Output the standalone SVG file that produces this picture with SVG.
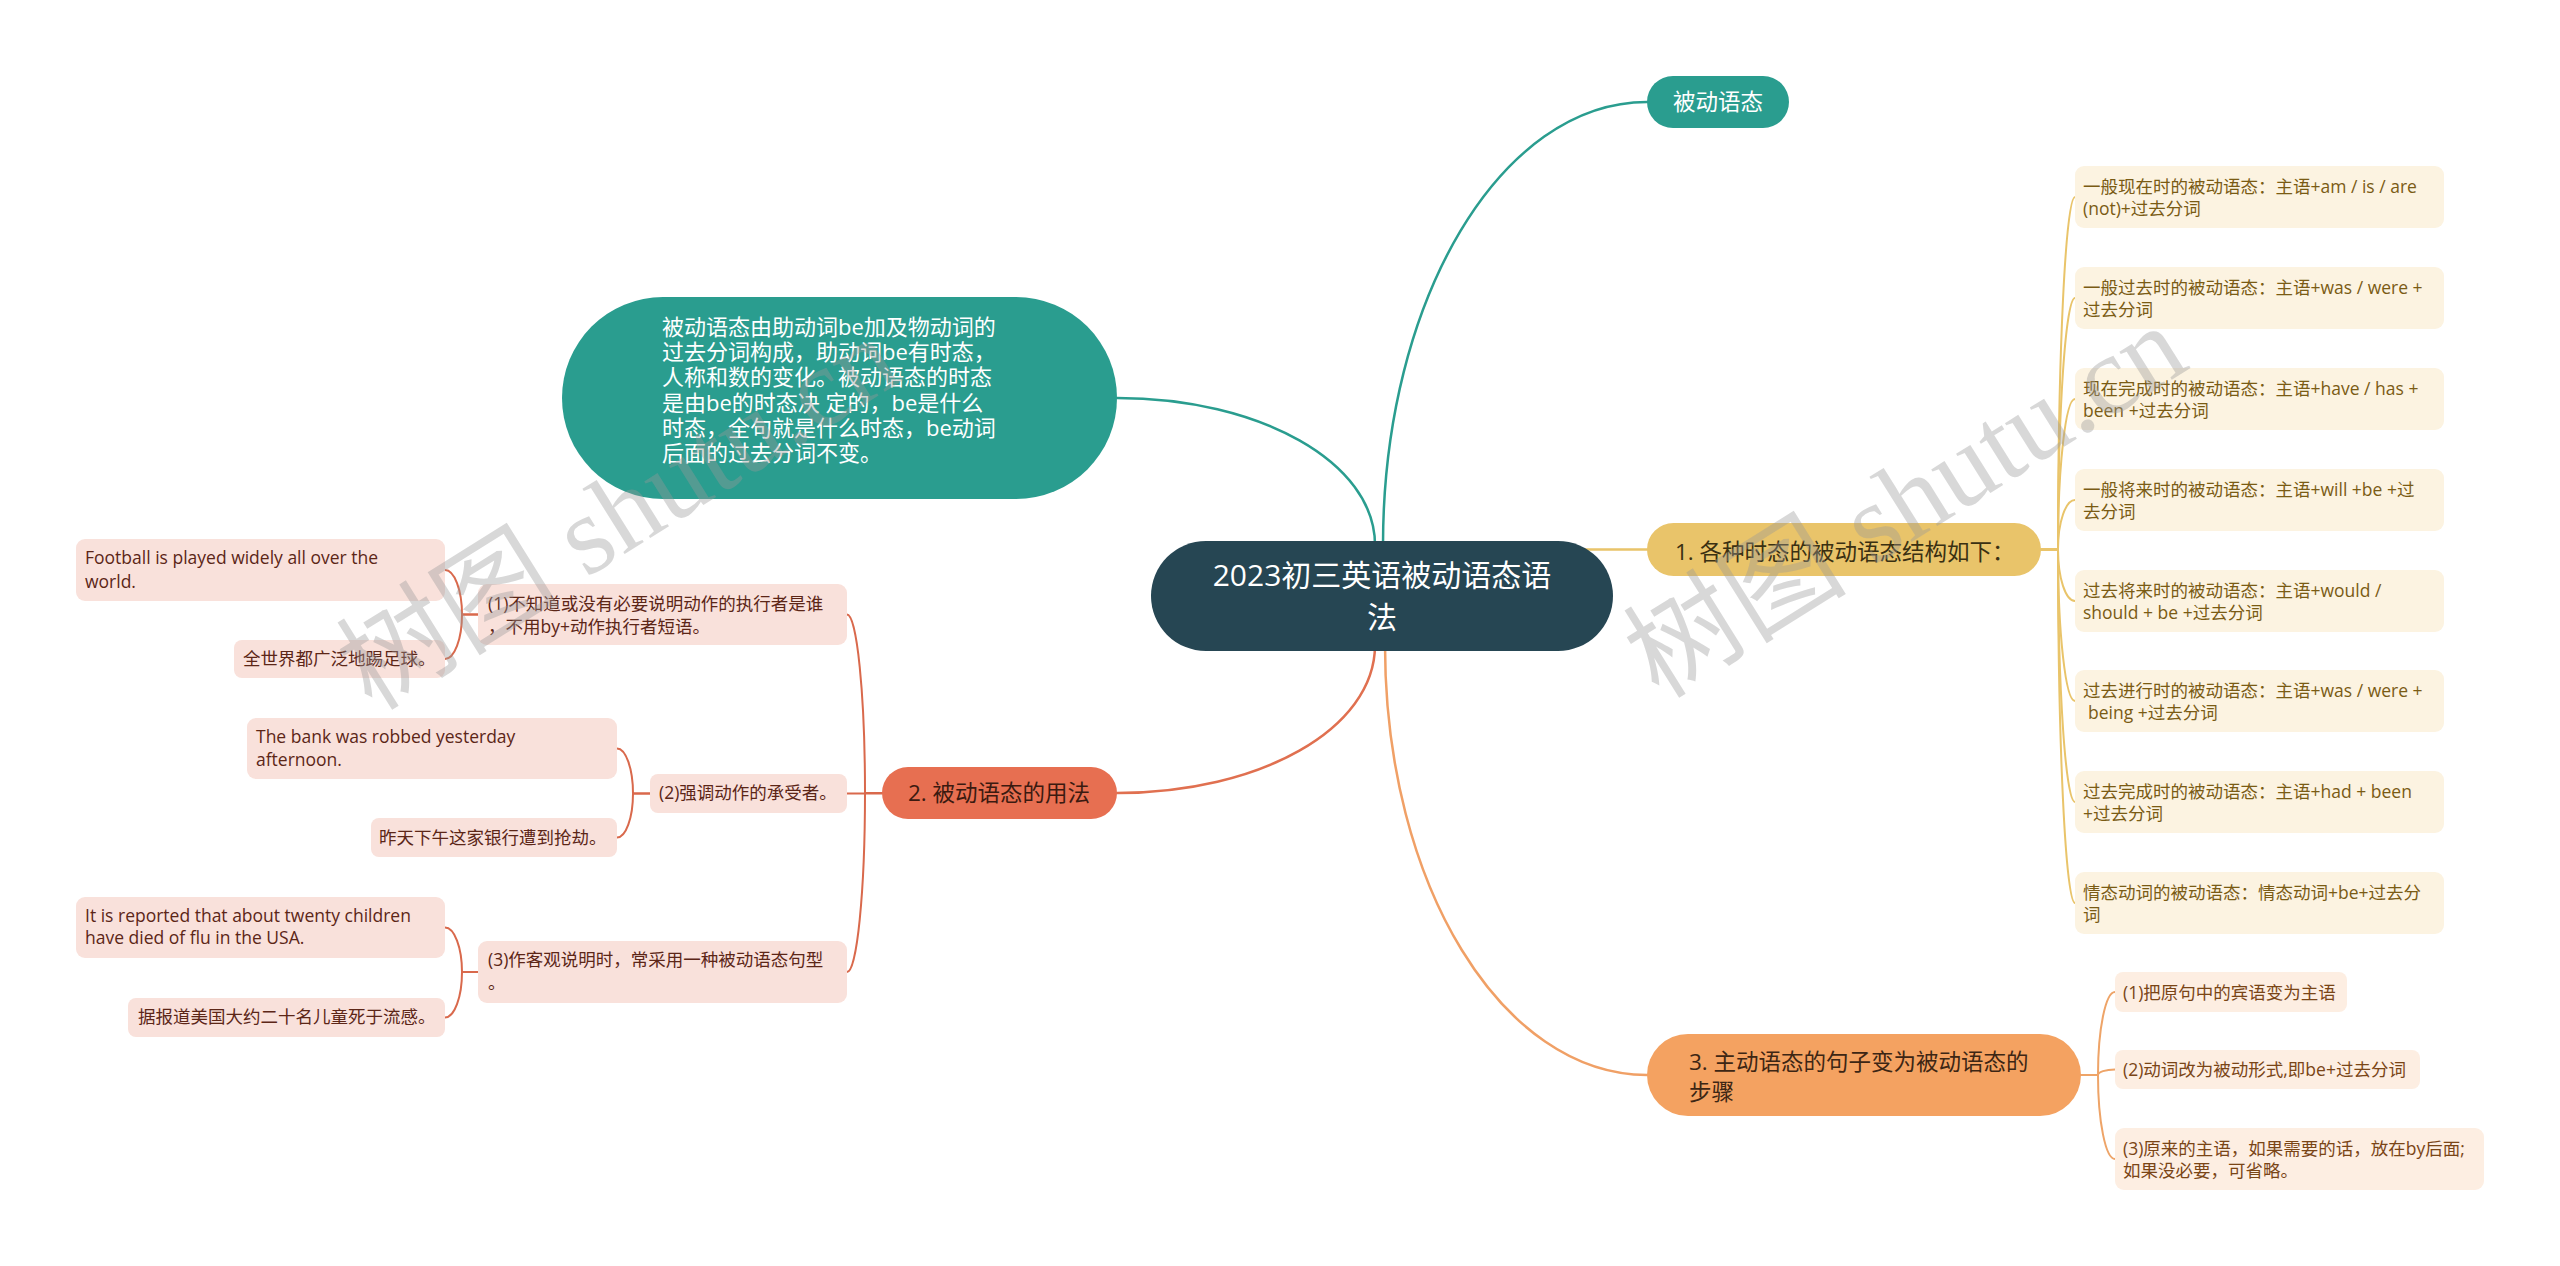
<svg xmlns="http://www.w3.org/2000/svg" width="2560" height="1266" viewBox="0 0 2560 1266">
<style>
text { font-family: "Open Sans", "Noto Sans CJK SC", sans-serif; }
.root-t { fill: #ffffff; font-size: 30px; }
.main-t { font-size: 22.5px; }
.big-t { fill: #ffffff; font-size: 22px; }
.leaf-t { font-size: 17.5px; }
.l1 rect { fill: #fcf3e1; } .l1 text { fill: #7a5b14; }
.l2 rect { fill: #f9e1db; } .l2 text { fill: #5c2617; }
.l3 rect { fill: #fdeee2; } .l3 text { fill: #7a4516; }
.c { fill: none; stroke-linecap: round; }
.ct { stroke: #2a9d8f; stroke-width: 2.5; }
.cy { stroke: #e9c46a; stroke-width: 2.5; }
.cr { stroke: #e07050; stroke-width: 2.5; }
.co { stroke: #f0a066; stroke-width: 2.5; }
.cy2 { stroke: #e9c46a; stroke-width: 2; }
.cr2 { stroke: #d9694c; stroke-width: 2; }
.co2 { stroke: #eea468; stroke-width: 2; }
.wm { font-family: "Liberation Serif", "Noto Sans CJK SC", serif; font-size: 112px; fill: #999999; fill-opacity: 0.38; }
</style>
<g id="connectors">
<path class="c ct" d="M1383,545 C1383,298.7 1501.3,102 1647,102"/>
<path class="c ct" d="M1375,545 C1375,462.1 1259.4,398 1117,398"/>
<path class="c cr" d="M1375,645 C1375,729.4 1259.4,793 1117,793"/>
<path class="c co" d="M1385,645 C1385,885 1502.4,1075 1647,1075"/>
<path class="c cy" d="M1560,549.5 H1647"/>
<path class="c cy2" d="M2041,549.5 H2058 C2058,354.9 2065.6,197 2075,197"/>
<path class="c cy2" d="M2041,549.5 H2058 C2058,410.7 2065.6,298 2075,298"/>
<path class="c cy2" d="M2041,549.5 H2058 C2058,466.4 2065.6,399 2075,399"/>
<path class="c cy2" d="M2041,549.5 H2058 C2058,522.2 2065.6,500 2075,500"/>
<path class="c cy2" d="M2041,549.5 H2058 C2058,577.9 2065.6,601 2075,601"/>
<path class="c cy2" d="M2041,549.5 H2058 C2058,633.1 2065.6,701 2075,701"/>
<path class="c cy2" d="M2041,549.5 H2058 C2058,688.9 2065.6,802 2075,802"/>
<path class="c cy2" d="M2041,549.5 H2058 C2058,744.6 2065.6,903 2075,903"/>
<path class="c co2" d="M2081,1075 H2098 C2098,1029.2 2105.6,992 2115,992"/>
<path class="c co2" d="M2081,1075 H2098 C2098,1072 2105.6,1069.5 2115,1069.5"/>
<path class="c co2" d="M2081,1075 H2098 C2098,1121.4 2105.6,1159 2115,1159"/>
<path class="c cr2" d="M882,793 H865 C865,694.5 856.9,614.5 847,614.5"/>
<path class="c cr2" d="M882,793.5 H847"/>
<path class="c cr2" d="M882,793 H865 C865,891.8 856.9,972 847,972"/>
<path class="c cr2" d="M478,614.5 H462 C462,590 454.4,570 445,570"/>
<path class="c cr2" d="M478,614.5 H462 C462,639.1 454.4,659 445,659"/>
<path class="c cr2" d="M650,793.5 H633 C633,768.7 625.8,748.5 617,748.5"/>
<path class="c cr2" d="M650,793.5 H633 C633,817.8 625.8,837.5 617,837.5"/>
<path class="c cr2" d="M478,972 H462 C462,947.4 454.4,927.5 445,927.5"/>
<path class="c cr2" d="M478,972 H462 C462,997.1 454.4,1017.5 445,1017.5"/>
</g>
<g id="root">
<rect x="1151" y="541" width="462" height="110" rx="55" fill="#264653"/>
<text class="root-t" x="1382" y="586" text-anchor="middle">2023初三英语被动语态语</text>
<text class="root-t" x="1382" y="628" text-anchor="middle">法</text>
</g>
<g id="node-beidong">
<rect x="1647" y="76" width="142" height="52" rx="26" fill="#2a9d8f"/>
<text class="main-t" x="1718" y="110" text-anchor="middle" fill="#ffffff">被动语态</text>
</g>
<g id="node-desc">
<rect x="562" y="297" width="555" height="202" rx="101" fill="#2a9d8f"/>
<text class="big-t" x="662" y="334.6">被动语态由助动词be加及物动词的</text>
<text class="big-t" x="662" y="359.9">过去分词构成，助动词be有时态，</text>
<text class="big-t" x="662" y="385.2">人称和数的变化。被动语态的时态</text>
<text class="big-t" x="662" y="410.5">是由be的时态决 定的，be是什么</text>
<text class="big-t" x="662" y="435.8">时态，全句就是什么时态，be动词</text>
<text class="big-t" x="662" y="461.1">后面的过去分词不变。</text>
</g>
<g id="node-1">
<rect x="1647" y="523" width="394" height="53" rx="26.5" fill="#e9c46a"/>
<text class="main-t" x="1675" y="560" fill="#3a3012">1. 各种时态的被动语态结构如下：</text>
</g>
<g id="node-2">
<rect x="882" y="767" width="235" height="52" rx="26" fill="#e76f51"/>
<text class="main-t" x="908" y="801" fill="#3b1a10">2. 被动语态的用法</text>
</g>
<g id="node-3">
<rect x="1647" y="1034" width="434" height="82" rx="41" fill="#f4a261"/>
<text class="main-t" x="1689" y="1070" fill="#3d2614">3. 主动语态的句子变为被动语态的</text>
<text class="main-t" x="1689" y="1100" fill="#3d2614">步骤</text>
</g>
<g id="n1-leaf-1" class="l1"><rect x="2075" y="166" width="369" height="62" rx="9"/>
<text class="leaf-t" x="2083" y="193">一般现在时的被动语态：主语+am / is / are</text>
<text class="leaf-t" x="2083" y="215.3">(not)+过去分词</text></g>
<g id="n1-leaf-2" class="l1"><rect x="2075" y="267" width="369" height="62" rx="9"/>
<text class="leaf-t" x="2083" y="294">一般过去时的被动语态：主语+was / were +</text>
<text class="leaf-t" x="2083" y="316.3">过去分词</text></g>
<g id="n1-leaf-3" class="l1"><rect x="2075" y="368" width="369" height="62" rx="9"/>
<text class="leaf-t" x="2083" y="395">现在完成时的被动语态：主语+have / has +</text>
<text class="leaf-t" x="2083" y="417.3">been +过去分词</text></g>
<g id="n1-leaf-4" class="l1"><rect x="2075" y="469" width="369" height="62" rx="9"/>
<text class="leaf-t" x="2083" y="496">一般将来时的被动语态：主语+will +be +过</text>
<text class="leaf-t" x="2083" y="518.3">去分词</text></g>
<g id="n1-leaf-5" class="l1"><rect x="2075" y="570" width="369" height="62" rx="9"/>
<text class="leaf-t" x="2083" y="597">过去将来时的被动语态：主语+would /</text>
<text class="leaf-t" x="2083" y="619.3">should + be +过去分词</text></g>
<g id="n1-leaf-6" class="l1"><rect x="2075" y="670" width="369" height="62" rx="9"/>
<text class="leaf-t" x="2083" y="697">过去进行时的被动语态：主语+was / were +</text>
<text class="leaf-t" x="2088" y="719.3">being +过去分词</text></g>
<g id="n1-leaf-7" class="l1"><rect x="2075" y="771" width="369" height="62" rx="9"/>
<text class="leaf-t" x="2083" y="798">过去完成时的被动语态：主语+had + been</text>
<text class="leaf-t" x="2083" y="820.3">+过去分词</text></g>
<g id="n1-leaf-8" class="l1"><rect x="2075" y="872" width="369" height="62" rx="9"/>
<text class="leaf-t" x="2083" y="899">情态动词的被动语态：情态动词+be+过去分</text>
<text class="leaf-t" x="2083" y="921.3">词</text></g>
<g id="n3-leaf-1" class="l3"><rect x="2115" y="972" width="232" height="40" rx="8"/>
<text class="leaf-t" x="2123" y="999">(1)把原句中的宾语变为主语</text></g>
<g id="n3-leaf-2" class="l3"><rect x="2115" y="1050" width="305" height="39" rx="8"/>
<text class="leaf-t" x="2123" y="1076">(2)动词改为被动形式,即be+过去分词</text></g>
<g id="n3-leaf-3" class="l3"><rect x="2115" y="1128" width="369" height="62" rx="9"/>
<text class="leaf-t" x="2123" y="1155">(3)原来的主语，如果需要的话，放在by后面;</text>
<text class="leaf-t" x="2123" y="1177">如果没必要，可省略。</text></g>
<g id="n2-leaf-1" class="l2"><rect x="478" y="584" width="369" height="61" rx="9"/>
<text class="leaf-t" x="488" y="610">(1)不知道或没有必要说明动作的执行者是谁</text>
<text class="leaf-t" x="488" y="633">，不用by+动作执行者短语。</text></g>
<g id="n2-leaf-1a" class="l2"><rect x="76" y="539" width="369" height="62" rx="9"/>
<text class="leaf-t" x="85" y="564">Football is played widely all over the</text>
<text class="leaf-t" x="85" y="588">world.</text></g>
<g id="n2-leaf-1b" class="l2"><rect x="234" y="640" width="211" height="38" rx="8"/>
<text class="leaf-t" x="243" y="665">全世界都广泛地踢足球。</text></g>
<g id="n2-leaf-2" class="l2"><rect x="650" y="774" width="197" height="39" rx="8"/>
<text class="leaf-t" x="659" y="799">(2)强调动作的承受者。</text></g>
<g id="n2-leaf-2a" class="l2"><rect x="247" y="718" width="370" height="61" rx="9"/>
<text class="leaf-t" x="256" y="743">The bank was robbed yesterday</text>
<text class="leaf-t" x="256" y="766">afternoon.</text></g>
<g id="n2-leaf-2b" class="l2"><rect x="371" y="818" width="246" height="39" rx="8"/>
<text class="leaf-t" x="379" y="844">昨天下午这家银行遭到抢劫。</text></g>
<g id="n2-leaf-3" class="l2"><rect x="478" y="941" width="369" height="62" rx="9"/>
<text class="leaf-t" x="488" y="966">(3)作客观说明时，常采用一种被动语态句型</text>
<text class="leaf-t" x="488" y="989">。</text></g>
<g id="n2-leaf-3a" class="l2"><rect x="76" y="897" width="369" height="61" rx="9"/>
<text class="leaf-t" x="85" y="922">It is reported that about twenty children</text>
<text class="leaf-t" x="85" y="944">have died of flu in the USA.</text></g>
<g id="n2-leaf-3b" class="l2"><rect x="128" y="998" width="317" height="39" rx="8"/>
<text class="leaf-t" x="138" y="1023">据报道美国大约二十名儿童死于流感。</text></g>
<g id="watermark">
<text class="wm" transform="translate(372,712) rotate(-32)">树图 shutu.cn</text>
<text class="wm" transform="translate(1659,700) rotate(-32)">树图 shutu.cn</text>
</g>
</svg>
